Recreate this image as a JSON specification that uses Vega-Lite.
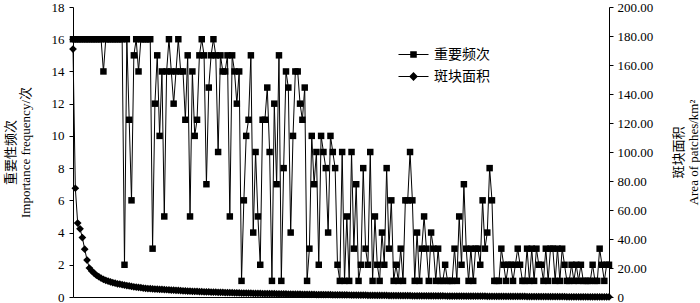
{
  "$schema": "https://vega.github.io/schema/vega-lite/v6.json",
  "width": 536,
  "height": 290,
  "autosize": {"type": "none"},
  "padding": {"left": 73, "top": 7, "right": 91, "bottom": 6},
  "background": "white",
  "config": {
    "view": {"stroke": null},
    "font": "Liberation Serif, Noto Sans CJK SC",
    "axis": {"domainColor": "black", "tickColor": "black", "labelColor": "black", "titleColor": "black", "grid": false, "labelFont": "Liberation Serif", "labelFontSize": 13, "titleFont": "Liberation Serif, Noto Sans CJK SC", "titleFontSize": 13, "titleFontWeight": "normal"}
  },
  "data": {"values": [
    {"i":0,"f":16,"a":171},{"i":1,"f":16,"a":75},{"i":2,"f":16,"a":51},{"i":3,"f":16,"a":47},{"i":4,"f":16,"a":41},
    {"i":5,"f":16,"a":33},{"i":6,"f":16,"a":25.5},{"i":7,"f":16,"a":20},{"i":8,"f":16,"a":18},{"i":9,"f":16,"a":16.5},
    {"i":10,"f":16,"a":15},{"i":11,"f":16,"a":14},{"i":12,"f":16,"a":13},{"i":13,"f":14,"a":12.2},{"i":14,"f":16,"a":11.5},
    {"i":15,"f":16,"a":11},{"i":16,"f":16,"a":10.4},{"i":17,"f":16,"a":9.9},{"i":18,"f":16,"a":9.5},{"i":19,"f":16,"a":9.1},
    {"i":20,"f":16,"a":8.8},{"i":21,"f":16,"a":8.5},{"i":22,"f":2,"a":8.2},{"i":23,"f":16,"a":7.9},{"i":24,"f":11,"a":7.6},
    {"i":25,"f":6,"a":7.3},{"i":26,"f":15,"a":7.0},{"i":27,"f":16,"a":6.8},{"i":28,"f":14,"a":6.6},{"i":29,"f":16,"a":6.4},
    {"i":30,"f":16,"a":6.2},{"i":31,"f":16,"a":6.0},{"i":32,"f":16,"a":5.8},{"i":33,"f":16,"a":5.7},{"i":34,"f":3,"a":5.6},
    {"i":35,"f":12,"a":5.5},{"i":36,"f":15,"a":5.4},{"i":37,"f":10,"a":5.3},{"i":38,"f":14,"a":5.2},{"i":39,"f":5,"a":5.1},
    {"i":40,"f":14,"a":5.0},{"i":41,"f":16,"a":4.9},{"i":42,"f":14,"a":4.8},{"i":43,"f":12,"a":4.7},{"i":44,"f":14,"a":4.6},
    {"i":45,"f":16,"a":4.5},{"i":46,"f":14,"a":4.4},{"i":47,"f":14,"a":4.3},{"i":48,"f":11,"a":4.2},{"i":49,"f":15,"a":4.1},
    {"i":50,"f":5,"a":4.0},{"i":51,"f":14,"a":3.9},{"i":52,"f":10,"a":3.85},{"i":53,"f":11,"a":3.8},{"i":54,"f":15,"a":3.7},
    {"i":55,"f":16,"a":3.65},{"i":56,"f":15,"a":3.6},{"i":57,"f":7,"a":3.5},{"i":58,"f":13,"a":3.45},{"i":59,"f":15,"a":3.4},
    {"i":60,"f":16,"a":3.35},{"i":61,"f":15,"a":3.3},{"i":62,"f":9,"a":3.25},{"i":63,"f":15,"a":3.2},{"i":64,"f":14,"a":3.15},
    {"i":65,"f":14,"a":3.1},{"i":66,"f":15,"a":3.05},{"i":67,"f":5,"a":3.0},{"i":68,"f":15,"a":2.95},{"i":69,"f":14,"a":2.9},
    {"i":70,"f":12,"a":2.85},{"i":71,"f":14,"a":2.8},{"i":72,"f":1,"a":2.75},{"i":73,"f":6,"a":2.7},{"i":74,"f":10,"a":2.68},
    {"i":75,"f":11,"a":2.65},{"i":76,"f":15,"a":2.6},{"i":77,"f":4,"a":2.55},{"i":78,"f":9,"a":2.5},{"i":79,"f":5,"a":2.48},
    {"i":80,"f":2,"a":2.45},{"i":81,"f":11,"a":2.4},{"i":82,"f":11,"a":2.38},{"i":83,"f":13,"a":2.35},{"i":84,"f":9,"a":2.3},
    {"i":85,"f":1,"a":2.28},{"i":86,"f":12,"a":2.25},{"i":87,"f":7,"a":2.2},{"i":88,"f":15,"a":2.18},{"i":89,"f":1,"a":2.15},
    {"i":90,"f":8,"a":2.1},{"i":91,"f":14,"a":2.08},{"i":92,"f":13,"a":2.05},{"i":93,"f":4,"a":2.0},{"i":94,"f":10,"a":1.98},
    {"i":95,"f":14,"a":1.95},{"i":96,"f":14,"a":1.92},{"i":97,"f":12,"a":1.9},{"i":98,"f":11,"a":1.88},{"i":99,"f":13,"a":1.85},
    {"i":100,"f":1,"a":1.82},{"i":101,"f":3,"a":1.8},{"i":102,"f":10,"a":1.78},{"i":103,"f":7,"a":1.75},{"i":104,"f":9,"a":1.72},
    {"i":105,"f":2,"a":1.7},{"i":106,"f":10,"a":1.68},{"i":107,"f":9,"a":1.65},{"i":108,"f":8,"a":1.62},{"i":109,"f":4,"a":1.6},
    {"i":110,"f":10,"a":1.58},{"i":111,"f":9,"a":1.55},{"i":112,"f":8,"a":1.52},{"i":113,"f":2,"a":1.5},{"i":114,"f":1,"a":1.48},
    {"i":115,"f":9,"a":1.45},{"i":116,"f":1,"a":1.42},{"i":117,"f":5,"a":1.4},{"i":118,"f":1,"a":1.38},{"i":119,"f":9,"a":1.35},
    {"i":120,"f":3,"a":1.33},{"i":121,"f":7,"a":1.3},{"i":122,"f":1,"a":1.28},{"i":123,"f":2,"a":1.26},{"i":124,"f":8,"a":1.24},
    {"i":125,"f":3,"a":1.22},{"i":126,"f":2,"a":1.2},{"i":127,"f":9,"a":1.18},{"i":128,"f":1,"a":1.16},{"i":129,"f":5,"a":1.14},
    {"i":130,"f":2,"a":1.12},{"i":131,"f":1,"a":1.1},{"i":132,"f":4,"a":1.08},{"i":133,"f":2,"a":1.06},{"i":134,"f":8,"a":1.04},
    {"i":135,"f":3,"a":1.02},{"i":136,"f":6,"a":1.0},{"i":137,"f":1,"a":0.98},{"i":138,"f":2,"a":0.96},{"i":139,"f":1,"a":0.95},
    {"i":140,"f":3,"a":0.93},{"i":141,"f":1,"a":0.92},{"i":142,"f":6,"a":0.9},{"i":143,"f":6,"a":0.89},{"i":144,"f":9,"a":0.87},
    {"i":145,"f":6,"a":0.86},{"i":146,"f":1,"a":0.84},{"i":147,"f":4,"a":0.83},{"i":148,"f":1,"a":0.82},{"i":149,"f":3,"a":0.8},
    {"i":150,"f":5,"a":0.79},{"i":151,"f":3,"a":0.78},{"i":152,"f":1,"a":0.77},{"i":153,"f":4,"a":0.75},{"i":154,"f":3,"a":0.74},
    {"i":155,"f":1,"a":0.73},{"i":156,"f":3,"a":0.72},{"i":157,"f":1,"a":0.71},{"i":158,"f":1,"a":0.7},{"i":159,"f":2,"a":0.69},
    {"i":160,"f":1,"a":0.68},{"i":161,"f":1,"a":0.67},{"i":162,"f":1,"a":0.66},{"i":163,"f":3,"a":0.65},{"i":164,"f":1,"a":0.64},
    {"i":165,"f":5,"a":0.63},{"i":166,"f":2,"a":0.62},{"i":167,"f":7,"a":0.61},{"i":168,"f":3,"a":0.6},{"i":169,"f":1,"a":0.59},
    {"i":170,"f":3,"a":0.58},{"i":171,"f":1,"a":0.57},{"i":172,"f":3,"a":0.56},{"i":173,"f":3,"a":0.55},{"i":174,"f":2,"a":0.54},
    {"i":175,"f":6,"a":0.53},{"i":176,"f":3,"a":0.52},{"i":177,"f":4,"a":0.51},{"i":178,"f":8,"a":0.5},{"i":179,"f":6,"a":0.49},
    {"i":180,"f":1,"a":0.48},{"i":181,"f":1,"a":0.47},{"i":182,"f":1,"a":0.46},{"i":183,"f":3,"a":0.45},{"i":184,"f":2,"a":0.44},
    {"i":185,"f":1,"a":0.43},{"i":186,"f":2,"a":0.42},{"i":187,"f":2,"a":0.41},{"i":188,"f":1,"a":0.4},{"i":189,"f":2,"a":0.39},
    {"i":190,"f":3,"a":0.38},{"i":191,"f":2,"a":0.37},{"i":192,"f":1,"a":0.36},{"i":193,"f":1,"a":0.35},{"i":194,"f":3,"a":0.34},
    {"i":195,"f":1,"a":0.33},{"i":196,"f":3,"a":0.32},{"i":197,"f":1,"a":0.31},{"i":198,"f":3,"a":0.3},{"i":199,"f":2,"a":0.29},
    {"i":200,"f":2,"a":0.28},{"i":201,"f":1,"a":0.27},{"i":202,"f":3,"a":0.26},{"i":203,"f":1,"a":0.25},{"i":204,"f":3,"a":0.24},
    {"i":205,"f":3,"a":0.23},{"i":206,"f":1,"a":0.22},{"i":207,"f":3,"a":0.21},{"i":208,"f":1,"a":0.2},{"i":209,"f":3,"a":0.19},
    {"i":210,"f":2,"a":0.18},{"i":211,"f":1,"a":0.17},{"i":212,"f":1,"a":0.16},{"i":213,"f":2,"a":0.15},{"i":214,"f":1,"a":0.14},
    {"i":215,"f":2,"a":0.13},{"i":216,"f":1,"a":0.12},{"i":217,"f":2,"a":0.11},{"i":218,"f":1,"a":0.1},{"i":219,"f":1,"a":0.09},
    {"i":220,"f":1,"a":0.08},{"i":221,"f":1,"a":0.07},{"i":222,"f":2,"a":0.06},{"i":223,"f":1,"a":0.05},{"i":224,"f":1,"a":0.04},
    {"i":225,"f":3,"a":0.04},{"i":226,"f":2,"a":0.03},{"i":227,"f":1,"a":0.03},{"i":228,"f":2,"a":0.02},{"i":229,"f":2,"a":0.02}
  ]},
  "encoding": {
    "x": {"field": "i", "type": "quantitative", "scale": {"domain": [0, 229], "nice": false, "zero": false}, "axis": {"labels": false, "ticks": false, "grid": false, "title": null, "domain": true}}
  },
  "layer": [
    {
      "encoding": {
        "y": {"field": "a", "type": "quantitative", "scale": {"domain": [0, 200], "nice": false},
          "axis": {"orient": "right", "values": [0,20,40,60,80,100,120,140,160,180,200], "labelExpr": "datum.value === 0 ? '0' : format(datum.value, '.2f')", "tickSize": 4, "labelPadding": 4, "title": ["斑块面积", "Area of patches/km²"], "titleAngle": -90, "titlePadding": 18, "titleLineHeight": 15}}
      },
      "layer": [
        {"mark": {"type": "line", "color": "black", "strokeWidth": 1}},
        {"mark": {"type": "point", "shape": "diamond", "filled": true, "color": "black", "opacity": 1, "size": 60}}
      ]
    },
    {
      "encoding": {
        "y": {"field": "f", "type": "quantitative", "scale": {"domain": [0, 18], "nice": false},
          "axis": {"orient": "left", "values": [0,2,4,6,8,10,12,14,16,18], "tickSize": 4, "labelPadding": 5, "title": ["重要性频次", "Importance frequency/次"], "titlePadding": 19, "titleLineHeight": 15}}
      },
      "layer": [
        {"mark": {"type": "line", "color": "black", "strokeWidth": 1}},
        {"mark": {"type": "point", "shape": "square", "filled": true, "color": "black", "opacity": 1, "size": 42}},
        {"transform": [{"filter": "datum.i < 0"}],
         "mark": {"type": "point", "filled": true, "color": "black", "opacity": 1, "size": 352},
         "encoding": {"shape": {"field": "series", "type": "nominal",
           "scale": {"domain": ["重要频次", "斑块面积"], "range": ["M-1.6,-0.055H1.6V0.055H-1.6ZM-0.35,-0.35H0.35V0.35H-0.35Z", "M-1.6,-0.055H1.6V0.055H-1.6ZM0,-0.47L0.47,0L0,0.47L-0.47,0Z"]},
           "legend": {"title": null, "orient": "none", "legendX": 330, "legendY": 37, "padding": 0,
             "symbolSize": 352, "rowPadding": 4, "labelOffset": 10, "labelFont": "Liberation Serif, Noto Sans CJK SC", "labelFontSize": 14, "labelColor": "black",
             "symbolFillColor": "black"}}}}
      ]
    }
  ],
  "resolve": {"scale": {"y": "independent"}}
}
